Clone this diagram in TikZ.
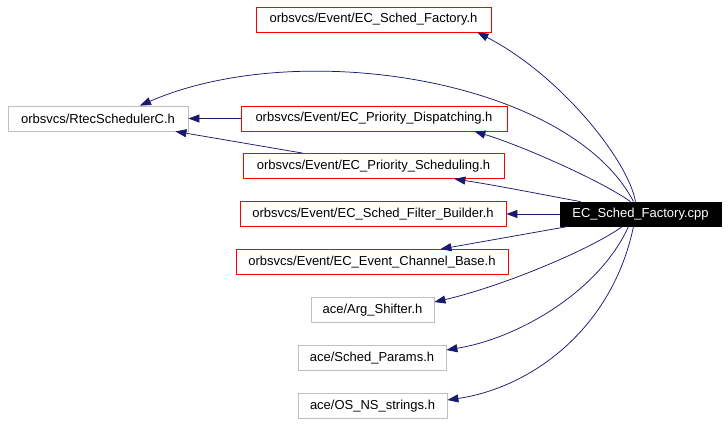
\documentclass[tikz,border=0pt]{standalone}
\usepackage{fontspec}
\setmainfont{Liberation Sans}
\usetikzlibrary{arrows.meta}
\definecolor{edgeblue}{RGB}{25,25,112}
\definecolor{boxgray}{RGB}{191,191,191}
\begin{document}
\begin{tikzpicture}[x=1pt,y=-1pt,
  box/.style={draw, rectangle, inner sep=0pt, minimum height=25pt, font=\fontsize{13}{15}\selectfont, line width=0.8pt},
  redbox/.style={box, draw=red},
  graybox/.style={box, draw=boxgray},
  mainbox/.style={box, draw=black, fill=black, text=white},
  dep/.style={draw=edgeblue, line width=0.75pt, -{Triangle[length=11pt,width=8pt]}, fill=none}
]
\useasboundingbox (0,0) rectangle (728,424);
\node[mainbox, minimum width=161pt, minimum height=24pt] (cpp) at (640.5,214) {EC\_Sched\_Factory.cpp};
\node[redbox, minimum width=235pt] (sfh) at (373.5,19.5) {orbsvcs/Event/EC\_Sched\_Factory.h};
\node[graybox, minimum width=180pt] (rtec) at (98,118.5) {orbsvcs/RtecSchedulerC.h};
\node[redbox, minimum width=266pt] (disp) at (374,118.5) {orbsvcs/Event/EC\_Priority\_Dispatching.h};
\node[redbox, minimum width=261pt] (sched) at (373.5,166) {orbsvcs/Event/EC\_Priority\_Scheduling.h};
\node[redbox, minimum width=266pt] (filt) at (373,214) {orbsvcs/Event/EC\_Sched\_Filter\_Builder.h};
\node[redbox, minimum width=272pt] (ecb) at (372,262) {orbsvcs/Event/EC\_Event\_Channel\_Base.h};
\node[graybox, minimum width=123pt] (arg) at (372.5,310) {ace/Arg\_Shifter.h};
\node[graybox, minimum width=148pt] (sp) at (372,358) {ace/Sched\_Params.h};
\node[graybox, minimum width=149pt] (os) at (372.5,406) {ace/OS\_NS\_strings.h};

\draw[dep] ([xshift=-5pt]cpp.north) .. controls (628,160) and (560,75) .. ([xshift=-14pt]sfh.south east);
\draw[dep] ([xshift=-7pt]cpp.north) .. controls (570,80) and (300,36) .. ([xshift=42pt]rtec.north);
\draw[dep] (disp.west) -- (rtec.east);
\draw[dep] ([xshift=60pt]sched.north west) -- ([xshift=-13pt]rtec.south east);
\draw[dep] ([xshift=-10pt]cpp.north) .. controls (600,180) and (520,145) .. ([xshift=-33pt]disp.south east);
\draw[dep] ([xshift=-60pt]cpp.north) .. controls (550,196) and (500,186) .. ([xshift=-50pt]sched.south east);
\draw[dep] (cpp.west) -- (filt.east);
\draw[dep] ([xshift=-72pt]cpp.south) -- ([xshift=-68pt]ecb.north east);
\draw[dep] ([xshift=-18pt]cpp.south) .. controls (590,250) and (500,287) .. ([yshift=8pt]arg.east);
\draw[dep] ([xshift=-12pt]cpp.south) .. controls (600,290) and (520,338) .. ([yshift=8pt]sp.east);
\draw[dep] ([xshift=-7pt]cpp.south) .. controls (612,330) and (530,388) .. ([yshift=6pt]os.east);
\end{tikzpicture}
\end{document}
